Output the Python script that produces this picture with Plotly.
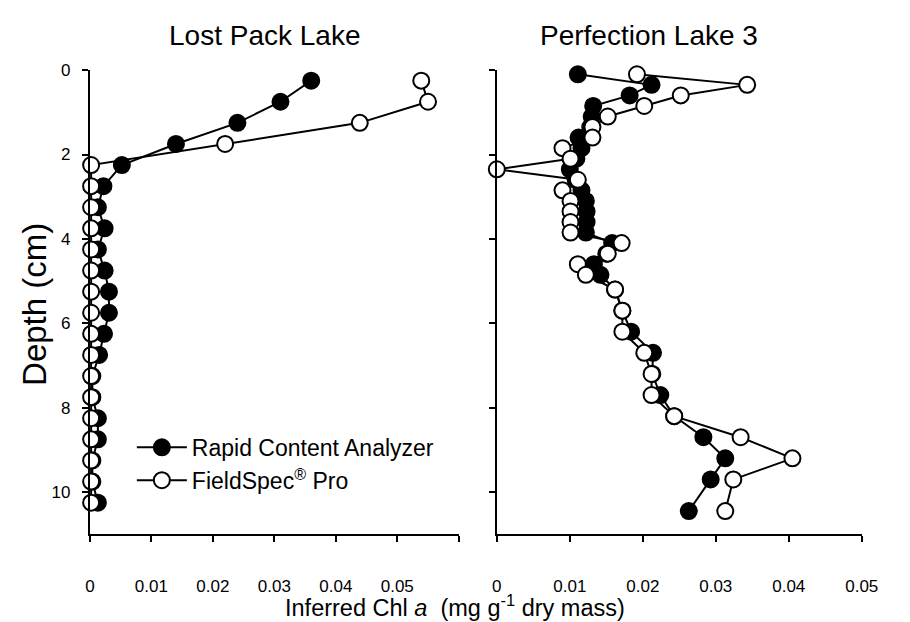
import plotly.graph_objects as go

# ---------------- data ----------------
lost_depth = [0.25, 0.75, 1.25, 1.75, 2.25, 2.75, 3.25, 3.75, 4.25, 4.75, 5.25,
              5.75, 6.25, 6.75, 7.25, 7.75, 8.25, 8.75, 9.25, 9.75, 10.25]
lost_rca = [0.0360, 0.0310, 0.0240, 0.0140, 0.0052, 0.0022, 0.0013, 0.0024, 0.0013,
            0.0024, 0.0031, 0.0031, 0.0023, 0.0015, 0.0004, 0.0004, 0.0013, 0.0013,
            0.0004, 0.0004, 0.0013]
lost_fs = [0.0539, 0.0550, 0.0439, 0.0220, 0.0002, 0.0002, 0.0002, 0.0002, 0.0002,
           0.0002, 0.0002, 0.0002, 0.0002, 0.0002, 0.0002, 0.0002, 0.0002, 0.0002,
           0.0002, 0.0002, 0.0002]

perf_depth = [0.1, 0.35, 0.6, 0.85, 1.1, 1.35, 1.6, 1.85, 2.1, 2.35, 2.6, 2.85, 3.1,
              3.35, 3.6, 3.85, 4.1, 4.35, 4.6, 4.85, 5.2, 5.7, 6.2, 6.7, 7.2, 7.7,
              8.2, 8.7, 9.2, 9.7, 10.45]
perf_rca = [0.0111, 0.0212, 0.0182, 0.0132, 0.0130, 0.0128, 0.0112, 0.0116, 0.0109,
            0.0100, 0.0108, 0.0116, 0.0122, 0.0123, 0.0123, 0.0122, 0.0158, 0.0150,
            0.0133, 0.0142, 0.0162, 0.0172, 0.0184, 0.0214, 0.0213, 0.0224, 0.0243,
            0.0283, 0.0313, 0.0293, 0.0263]
perf_fs = [0.0192, 0.0343, 0.0252, 0.0202, 0.0152, 0.0131, 0.0131, 0.0090, 0.0101,
           0.0000, 0.0111, 0.0090, 0.0101, 0.0101, 0.0101, 0.0101, 0.0171, 0.0152,
           0.0111, 0.0122, 0.0162, 0.0172, 0.0172, 0.0202, 0.0212, 0.0212, 0.0243,
           0.0334, 0.0405, 0.0324, 0.0313]

left_xticks = [0, 0.01, 0.02, 0.03, 0.04, 0.05, 0.06]
left_xticktext = ["0", "0.01", "0.02", "0.03", "0.04", "0.05", ""]
right_xticks = [0, 0.01, 0.02, 0.03, 0.04, 0.05]
right_xticktext = ["0", "0.01", "0.02", "0.03", "0.04", "0.05"]
yticks = [0, 2, 4, 6, 8, 10]

panel_titles = ["Lost Pack Lake", "Perfection Lake 3"]
series_names = ["Rapid Content Analyzer", "FieldSpec<sup>®</sup> Pro"]

# ---------------- figure ----------------
W, H = 910, 622
FONT = "Arial, Liberation Sans, sans-serif"

filled = dict(symbol="circle", size=16, color="black", line=dict(color="black", width=2))
opened = dict(symbol="circle", size=16, color="white", line=dict(color="black", width=2))
lw = dict(color="black", width=2)

fig = go.Figure()
fig.add_trace(go.Scatter(x=lost_rca, y=lost_depth, mode="lines+markers", marker=filled,
                         line=lw, name=series_names[0], xaxis="x", yaxis="y",
                         cliponaxis=False))
fig.add_trace(go.Scatter(x=lost_fs, y=lost_depth, mode="lines+markers", marker=opened,
                         line=lw, name=series_names[1], xaxis="x", yaxis="y",
                         cliponaxis=False))
fig.add_trace(go.Scatter(x=perf_rca, y=perf_depth, mode="lines+markers", marker=filled,
                         line=lw, showlegend=False, xaxis="x2", yaxis="y2",
                         cliponaxis=False))
fig.add_trace(go.Scatter(x=perf_fs, y=perf_depth, mode="lines+markers", marker=opened,
                         line=lw, showlegend=False, xaxis="x2", yaxis="y2",
                         cliponaxis=False))

ydom = [1 - 533 / H, 1 - 62 / H]
axis_common = dict(showline=True, linecolor="black", linewidth=2, showgrid=False,
                   zeroline=False, ticks="outside", tickcolor="black", tickwidth=2,
                   ticklen=6, tickfont=dict(family=FONT, size=17, color="black"))

fig.update_layout(
    width=W, height=H,
    margin=dict(l=0, r=0, t=0, b=0),
    paper_bgcolor="white", plot_bgcolor="white",
    font=dict(family=FONT, color="black"),
    xaxis=dict(domain=[87 / W, 465 / W], range=[0, 0.06], tickmode="array",
               tickvals=left_xticks, ticktext=left_xticktext, anchor="y",
               ticklabelstandoff=29, **axis_common),
    yaxis=dict(domain=ydom, range=[11, 0], tickmode="array", tickvals=yticks,
               anchor="x", ticklabelstandoff=8, **axis_common),
    xaxis2=dict(domain=[504 / W, 878 / W], range=[0, 0.05], tickmode="array",
                tickvals=right_xticks, ticktext=right_xticktext, anchor="y2",
                ticklabelstandoff=29, **axis_common),
    yaxis2=dict(domain=ydom, range=[11, 0], tickmode="array", tickvals=yticks,
                showticklabels=False, anchor="x2", **axis_common),
    showlegend=True,
    legend=dict(x=130 / W, y=1 - 423 / H, xanchor="left", yanchor="top",
                bgcolor="rgba(0,0,0,0)", font=dict(family=FONT, size=23, color="black"),
                tracegroupgap=0, itemsizing="trace", itemwidth=50),
)

annos = [
    dict(text=panel_titles[0], x=266 / W, y=1 - 27 / H, size=28),
    dict(text=panel_titles[1], x=660 / W, y=1 - 27 / H, size=28),
]
for a in annos:
    fig.add_annotation(text=a["text"], x=a["x"], y=a["y"], xref="paper", yref="paper",
                       showarrow=False, xanchor="center", yanchor="middle",
                       font=dict(family=FONT, size=a["size"], color="black"))

fig.add_annotation(text="Depth (cm)", x=30 / W, y=1 - 300 / H, xref="paper", yref="paper",
                   showarrow=False, textangle=-90, xanchor="center", yanchor="middle",
                   font=dict(family=FONT, size=33, color="black"))
fig.add_annotation(text="Inferred Chl <i>a</i>  (mg g<sup>-1</sup> dry mass)",
                   x=461 / W, y=1 - 606 / H, xref="paper", yref="paper",
                   showarrow=False, xanchor="center", yanchor="middle",
                   font=dict(family=FONT, size=23.5, color="black"))

fig.write_html("out.html")
